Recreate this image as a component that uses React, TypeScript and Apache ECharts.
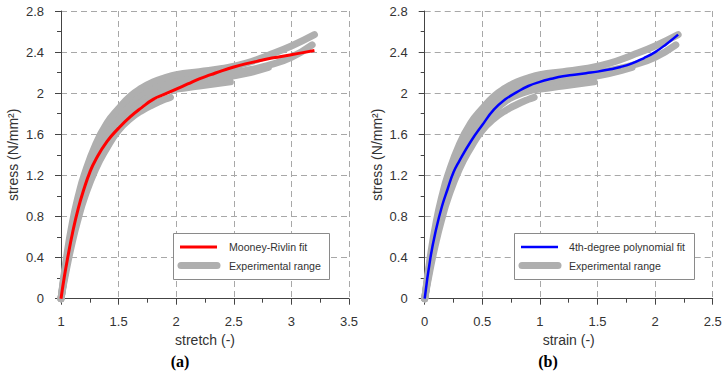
import React, { useEffect, useRef } from "react";
import * as echarts from "echarts";

// Mooney-Rivlin fit, stress against stretch
const mrStretch = [1.0, 1.03, 1.06, 1.1, 1.15, 1.2, 1.25, 1.3, 1.4, 1.5, 1.6, 1.7, 1.8, 1.9, 2.0, 2.1, 2.2, 2.3, 2.4, 2.5, 2.6, 2.7, 2.8, 2.9, 3.0, 3.1, 3.2];
const mrStress = [0, 0.22, 0.41, 0.64, 0.88, 1.07, 1.23, 1.35, 1.53, 1.66, 1.77, 1.86, 1.94, 1.99, 2.04, 2.09, 2.14, 2.18, 2.22, 2.255, 2.285, 2.31, 2.335, 2.355, 2.375, 2.395, 2.415];

// 4th-degree polynomial fit, stress against strain
const polyStrain = [0, 0.05, 0.1, 0.15, 0.2, 0.25, 0.3, 0.4, 0.5, 0.6, 0.7, 0.8, 0.9, 1.0, 1.1, 1.2, 1.3, 1.4, 1.5, 1.6, 1.7, 1.8, 1.9, 2.0, 2.1, 2.2];
const polyStress = [0, 0.4, 0.68, 0.9, 1.07, 1.23, 1.34, 1.53, 1.69, 1.84, 1.94, 2.01, 2.07, 2.11, 2.14, 2.165, 2.18, 2.195, 2.21, 2.23, 2.255, 2.29, 2.34, 2.4, 2.48, 2.57];

// Experimental tests (strain, stress)
const test1Strain = [0, 0.05, 0.1, 0.15, 0.2, 0.3, 0.4, 0.5, 0.6, 0.7, 0.8, 0.9, 0.95];
const test1Stress = [0, 0.3, 0.56, 0.78, 0.97, 1.26, 1.47, 1.64, 1.75, 1.83, 1.89, 1.94, 1.96];

const test2Strain = [0, 0.05, 0.1, 0.15, 0.2, 0.3, 0.4, 0.5, 0.6, 0.7, 0.8, 0.9, 1.0, 1.2, 1.47];
const test2Stress = [0, 0.34, 0.62, 0.85, 1.03, 1.32, 1.53, 1.69, 1.82, 1.92, 1.98, 2.02, 2.04, 2.07, 2.11];

const test3Strain = [0, 0.05, 0.1, 0.15, 0.2, 0.3, 0.4, 0.5, 0.6, 0.7, 0.8, 0.9, 1.0, 1.2, 1.4, 1.6, 1.8];
const test3Stress = [0, 0.36, 0.65, 0.88, 1.07, 1.36, 1.58, 1.74, 1.87, 1.96, 2.02, 2.06, 2.09, 2.12, 2.15, 2.19, 2.25];

const test4Strain = [0, 0.05, 0.1, 0.15, 0.2, 0.3, 0.4, 0.5, 0.6, 0.7, 0.8, 0.9, 1.0, 1.2, 1.4, 1.6, 1.8, 2.0, 2.18];
const test4Stress = [0, 0.38, 0.68, 0.92, 1.11, 1.4, 1.62, 1.78, 1.91, 2.0, 2.06, 2.1, 2.13, 2.16, 2.19, 2.22, 2.27, 2.35, 2.47];

const test5Strain = [0, 0.05, 0.1, 0.15, 0.2, 0.3, 0.4, 0.5, 0.6, 0.7, 0.8, 0.9, 1.0, 1.2, 1.4, 1.6, 1.8, 2.0, 2.2];
const test5Stress = [0, 0.42, 0.75, 1.0, 1.2, 1.5, 1.71, 1.85, 1.97, 2.05, 2.11, 2.15, 2.18, 2.21, 2.24, 2.29, 2.37, 2.46, 2.57];

const tests = [
  [test1Strain, test1Stress],
  [test2Strain, test2Stress],
  [test3Strain, test3Stress],
  [test4Strain, test4Stress],
  [test5Strain, test5Stress],
];

const SANS = "'Liberation Sans', Arial, sans-serif";
const SERIF = "'Liberation Serif', 'Times New Roman', serif";
const AXIS = "#444";
const TEXT = "#333";
const GRAY = "#afafaf";

const pairs = (xs: number[], ys: number[], shift = 0) => xs.map((x, i) => [x + shift, ys[i]]);

function axisBase(gridIndex: number, min: number, max: number, interval: number, name: string, isY: boolean) {
  return {
    type: "value",
    gridIndex,
    min,
    max,
    interval,
    name,
    nameLocation: "middle",
    nameGap: isY ? 41 : 31,
    nameTextStyle: { fontSize: 14, color: TEXT, fontFamily: SANS },
    axisLine: { show: true, onZero: false, lineStyle: { color: AXIS, width: 1 } },
    axisTick: { show: true, length: 6, lineStyle: { color: AXIS, width: 1 } },
    minorTick: { show: true, splitNumber: 2, length: 4, lineStyle: { color: AXIS, width: 1 } },
    axisLabel: { fontSize: 13, color: TEXT, fontFamily: SANS, margin: isY ? 17 : 16 },
    splitLine: { show: true, lineStyle: { type: [6, 4], color: "#a8a8a8", width: 1 } },
  };
}

function testSeries(axisIdx: number, shift: number) {
  return tests.map(([xs, ys], i) => ({
    type: "line",
    name: i === 0 ? "Experimental range" : undefined,
    xAxisIndex: axisIdx,
    yAxisIndex: axisIdx,
    data: pairs(xs, ys, shift),
    showSymbol: false,
    smooth: 0.5,
    clip: false,
    lineStyle: { color: GRAY, width: 7, cap: "round", join: "round" },
    z: 2,
  }));
}

function legendBox(x: number, w: number, fitColor: string, fitWidth: number, fitLabel: string, lineLen: number, textX: number) {
  const y = 233;
  return [
    { type: "rect", shape: { x: x + 0.5, y: y + 0.5, width: w, height: 46 }, style: { fill: "#fff", stroke: "#8a8a8a", lineWidth: 1 }, z: 10 },
    { type: "line", shape: { x1: x + 7, y1: 247, x2: x + 7 + lineLen, y2: 247 }, style: { stroke: fitColor, lineWidth: fitWidth }, z: 11 },
    { type: "line", shape: { x1: x + 8, y1: 265.5, x2: x + 7 + lineLen, y2: 265.5 }, style: { stroke: GRAY, lineWidth: 7, lineCap: "round" }, z: 11 },
    { type: "text", x: textX, y: 247, style: { text: fitLabel, fill: TEXT, fontSize: 10.6, fontFamily: SANS, verticalAlign: "middle" }, z: 11 },
    { type: "text", x: textX, y: 265.5, style: { text: "Experimental range", fill: TEXT, fontSize: 10.6, fontFamily: SANS, verticalAlign: "middle" }, z: 11 },
  ];
}

function caption(cx: number, letter: string) {
  return {
    type: "text",
    x: cx,
    y: 361,
    style: {
      text: `{p|(}{b|${letter}}{p|)}`,
      align: "center",
      verticalAlign: "middle",
      rich: {
        p: { fontSize: 16, fontFamily: SERIF, fill: "#000", fontWeight: "bold" },
        b: { fontSize: 16, fontFamily: SERIF, fill: "#000", fontWeight: "bold" },
      },
    },
  };
}

export default function App() {
  const ref = useRef<HTMLDivElement>(null);

  useEffect(() => {
    const chart = echarts.init(ref.current!, null, { renderer: "svg" });
    chart.setOption({
      animation: false,
      backgroundColor: "#fff",
      grid: [
        { left: 61, right: 376, top: 11, bottom: 77.3, containLabel: false, outerBoundsMode: "none" },
        { left: 424.7, right: 12.3, top: 11, bottom: 77.3, containLabel: false, outerBoundsMode: "none" },
      ],
      xAxis: [
        axisBase(0, 1, 3.5, 0.5, "stretch (-)", false),
        axisBase(1, 0, 2.5, 0.5, "strain (-)", false),
      ],
      yAxis: [
        axisBase(0, 0, 2.8, 0.4, "stress (N/mm²)", true),
        axisBase(1, 0, 2.8, 0.4, "stress (N/mm²)", true),
      ],
      series: [
        ...testSeries(0, 1),
        {
          type: "line",
          name: "Mooney-Rivlin fit",
          xAxisIndex: 0,
          yAxisIndex: 0,
          data: pairs(mrStretch, mrStress),
          showSymbol: false,
          smooth: 0.5,
          clip: false,
          lineStyle: { color: "#ff0000", width: 3 },
          z: 3,
        },
        ...testSeries(1, 0),
        {
          type: "line",
          name: "4th-degree polynomial fit",
          xAxisIndex: 1,
          yAxisIndex: 1,
          data: pairs(polyStrain, polyStress),
          showSymbol: false,
          smooth: 0.5,
          clip: false,
          lineStyle: { color: "#0000ff", width: 2.5 },
          z: 3,
        },
      ],
      graphic: [
        ...legendBox(173, 156, "#ff0000", 3, "Mooney-Rivlin fit", 37, 229),
        ...legendBox(514, 180, "#0000ff", 2.5, "4th-degree polynomial fit", 37, 569),
        caption(180, "a"),
        caption(548, "b"),
      ],
    });
    return () => chart.dispose();
  }, []);

  return (
    <div
      ref={ref}
      style={{ position: "fixed", left: 0, top: 0, width: 725, height: 376, background: "#fff" }}
    />
  );
}
